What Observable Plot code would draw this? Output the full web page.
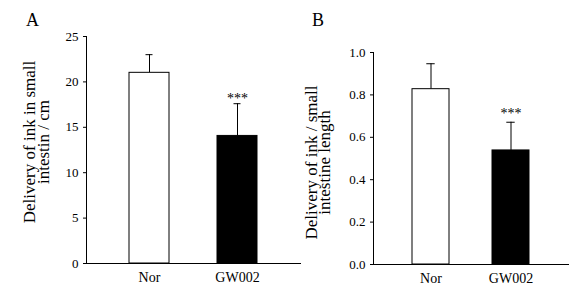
<!DOCTYPE html>
<html>
<head>
<meta charset="utf-8">
<script src="https://cdn.jsdelivr.net/npm/d3@7"></script>
<script src="https://cdn.jsdelivr.net/npm/@observablehq/plot@0.6"></script>
<style>
  html, body { margin: 0; padding: 0; background: white; }
  #wrap { position: relative; width: 576px; height: 288px; font-family: "Liberation Serif", "Times New Roman", serif; }
  .panel { position: absolute; top: 0; }
  .letter { position: absolute; font-size: 18px; line-height: 1; }
</style>
</head>
<body>
<div id="wrap">
  <div class="letter" style="left:26px; top:11px;">A</div>
  <div class="letter" style="left:312px; top:11px;">B</div>
  <div class="panel" id="pA" style="left:0px;"></div>
  <div class="panel" id="pB" style="left:290px;"></div>
</div>
<script>
const groups = ["Nor", "GW002"];
const meanA = [21.0, 14.05];
const upperA = [23.0, 17.6];
const meanB = [0.827, 0.538];
const upperB = [0.947, 0.671];
const sigB = ["", "***"];
const ticksA = [0, 5, 10, 15, 20, 25];
const ticksB = [0, 0.2, 0.4, 0.6, 0.8, 1.0];
const titleA = "Delivery of ink in small\nintestin / cm";
const titleB = "Delivery of ink / small\nintestine length";

const fillOf = g => g === "Nor" ? "white" : "black";
const font = "'Liberation Serif', 'Times New Roman', serif";

function panel({mean, upper, sig, ticks, domain, fmt, title, width, mLeft, mRight, mTop, mBottom, capInset, titleDx, titleDy, lineHeight, starDy}) {
  const data = groups.map((g, i) => ({g, mean: mean[i], upper: upper[i], sig: sig[i]}));
  const plot = Plot.plot({
    width, height: 288,
    marginLeft: mLeft, marginRight: mRight, marginTop: mTop, marginBottom: mBottom,
    style: {fontFamily: font, fontSize: "13px", background: "transparent", color: "black"},
    x: {domain: groups, paddingInner: 0.54, paddingOuter: 0.48, label: null, tickSize: 0, tickPadding: 9, line: true},
    y: {domain, ticks, tickFormat: fmt, tickSize: 3, tickPadding: 5, label: null, line: true},
    marks: [
      Plot.ruleX(data, {x: "g", y1: "mean", y2: "upper", stroke: "black", strokeWidth: 1}),
      Plot.tickY(data, {x: "g", y: "upper", stroke: "black", strokeWidth: 1, insetLeft: capInset, insetRight: capInset}),
      Plot.barY(data, {x: "g", y: "mean", fill: d => fillOf(d.g), stroke: "black", strokeWidth: 1}),
      Plot.text(data, {x: "g", y: "upper", text: "sig", dy: starDy, fontSize: 14, lineAnchor: "middle", fill: "black"}),
      Plot.text([title], {frameAnchor: "left", text: d => d, rotate: -90, dx: titleDx, dy: titleDy, fontSize: 17, lineHeight, textAnchor: "middle", lineAnchor: "middle", fill: "black"})
    ]
  });
  d3.select(plot).selectAll('[aria-label^="x-axis tick label"]').attr("font-size", 14);
  return plot;
}

document.getElementById("pA").appendChild(panel({
  mean: meanA, upper: upperA, sig: sigB, ticks: ticksA, domain: [0, 25], fmt: d3.format("d"),
  title: titleA, width: 310, mLeft: 86, mRight: 10, mTop: 36, mBottom: 25, capInset: 16.5,
  titleDx: -49, titleDy: -8, lineHeight: 0.8, starDy: -5
}));
document.getElementById("pB").appendChild(panel({
  mean: meanB, upper: upperB, sig: sigB, ticks: ticksB, domain: [0, 1], fmt: d3.format(".1f"),
  title: titleB, width: 286, mLeft: 83, mRight: 8, mTop: 52, mBottom: 24, capInset: 14.3,
  titleDx: -54.5, titleDy: 4, lineHeight: 0.77, starDy: -9
}));
</script>
</body>
</html>
